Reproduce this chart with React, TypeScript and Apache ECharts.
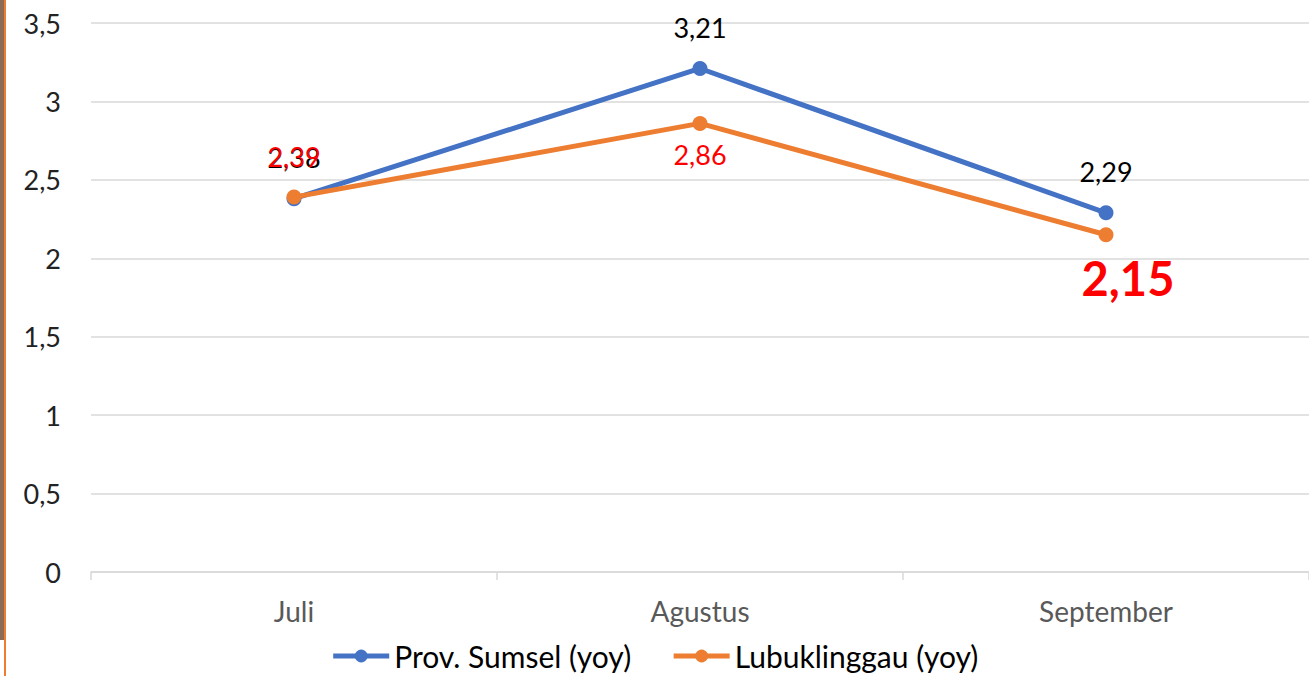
import React, { useEffect, useRef } from "react";
import * as echarts from "echarts";

const categories = ["Juli", "Agustus", "September"];
const sumsel = [2.38, 3.21, 2.29];
const lubuk = [2.39, 2.86, 2.15];
const yTicks = [0, 0.5, 1, 1.5, 2, 2.5, 3, 3.5];

const FONT = "Lato, 'Open Sans', sans-serif";
const fmt = (v: number) => String(v).replace(".", ",");

export default function App() {
  const ref = useRef<HTMLDivElement>(null);
  useEffect(() => {
    const chart = echarts.init(ref.current!, undefined, { renderer: "svg" });
    chart.setOption({
      animation: false,
      backgroundColor: "#ffffff",
      textStyle: { fontFamily: FONT },
      graphic: [
        { type: "rect", shape: { x: 0, y: 0, width: 4, height: 640 }, style: { fill: "#8b6b55" } },
        { type: "rect", shape: { x: 4, y: 0, width: 2, height: 676 }, style: { fill: "#ED7D31" } },
      ],
      grid: { left: 91, right: -3, top: 23, bottom: 104 },
      legend: {
        bottom: 0,
        left: "center",
        itemWidth: 56,
        itemHeight: 16,
        itemGap: 40,
        textStyle: { fontSize: 30, color: "#000", fontFamily: FONT },
        data: [
          { name: "Prov. Sumsel (yoy)", itemStyle: { color: "#4472C4" }, lineStyle: { width: 5, color: "#4472C4" } },
          { name: "Lubuklinggau (yoy)", itemStyle: { color: "#ED7D31" }, lineStyle: { width: 5, color: "#ED7D31" } },
        ],
      },
      xAxis: {
        type: "category",
        data: categories,
        boundaryGap: true,
        axisLine: { lineStyle: { color: "#d9d9d9", width: 1.5 } },
        axisTick: { show: true, length: 8, lineStyle: { color: "#d9d9d9", width: 1.5 } },
        axisLabel: { fontSize: 28, color: "#595959", margin: 25, fontFamily: FONT },
      },
      yAxis: {
        type: "value",
        min: 0,
        max: 3.5,
        interval: 0.5,
        axisLine: { show: false },
        axisTick: { show: false },
        splitLine: { lineStyle: { color: "#d9d9d9", width: 1.5 } },
        axisLabel: {
          fontSize: 27,
          color: "#222",
          margin: 30,
          fontFamily: FONT,
          formatter: (v: number) => (yTicks.includes(v) ? fmt(v) : ""),
        },
      },
      series: [
        {
          name: "Prov. Sumsel (yoy)",
          type: "line",
          data: sumsel,
          symbol: "circle",
          symbolSize: 15,
          lineStyle: { width: 5, color: "#4472C4" },
          itemStyle: { color: "#4472C4" },
          label: {
            show: true,
            position: "top",
            distance: 20,
            fontSize: 27,
            color: "#000",
            fontFamily: FONT,
            formatter: (p: any) => fmt(p.value),
          },
          z: 2,
        },
        {
          name: "Lubuklinggau (yoy)",
          type: "line",
          data: [
            { value: lubuk[0], label: { position: "top", distance: 20, fontSize: 27 } },
            { value: lubuk[1], label: { position: "bottom", distance: 10, fontSize: 27 } },
            {
              value: lubuk[2],
              label: { position: "bottom", distance: 12, fontSize: 47, fontWeight: "bold", offset: [22, 0] },
            },
          ],
          symbol: "circle",
          symbolSize: 15,
          lineStyle: { width: 5, color: "#ED7D31" },
          itemStyle: { color: "#ED7D31" },
          label: {
            show: true,
            color: "#ff0000",
            fontFamily: FONT,
            formatter: (p: any) => fmt(p.value),
          },
          z: 3,
        },
      ],
    });
    return () => chart.dispose();
  }, []);
  return (
    <div
      ref={ref}
      style={{ position: "fixed", left: 0, top: 0, width: 1309, height: 676 }}
    />
  );
}
